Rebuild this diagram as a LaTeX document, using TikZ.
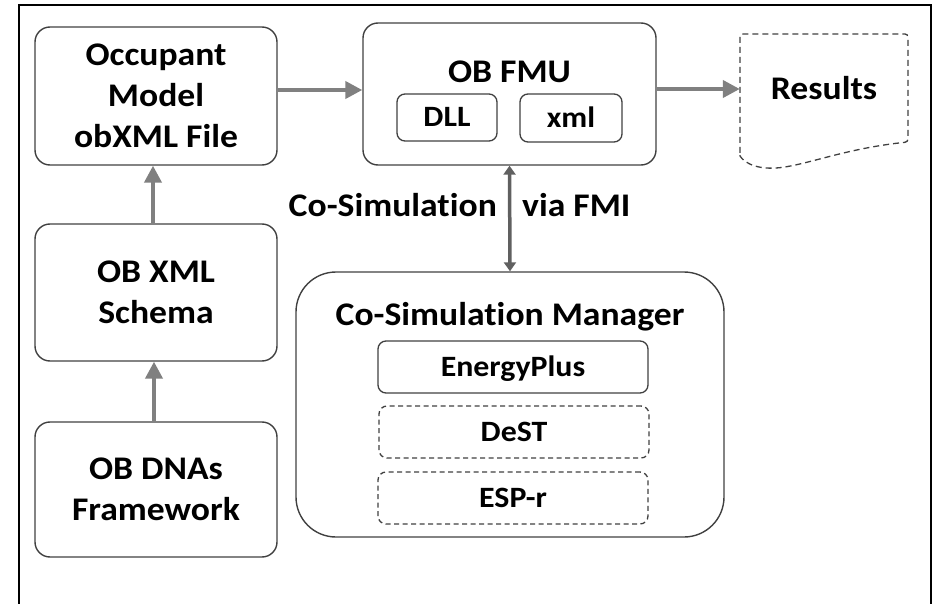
\documentclass[tikz,border=0pt]{standalone}
\usepackage{fontspec}
\setmainfont{Carlito}[FakeStretch=1.08, Ligatures=CommonOff]
\usetikzlibrary{arrows.meta,positioning}
\definecolor{obline}{RGB}{64,64,64}
\definecolor{obarrow}{RGB}{128,128,128}
\definecolor{oblink}{RGB}{96,96,96}

\begin{document}
\begin{tikzpicture}[x=1pt, y=-1pt, >=Stealth,
  every node/.style={font=\fontsize{33}{41}\selectfont\bfseries, align=center},
  block/.style={draw=obline, line width=1.4pt, rounded corners=15pt, inner sep=0pt},
  subblock/.style={draw=obline, line width=1.3pt, rounded corners=8pt,
    font=\fontsize{29.5}{34}\selectfont\bfseries, text height=19pt, text depth=0pt,
    minimum width=270pt, minimum height=52pt},
  dashbox/.style={subblock, dash pattern=on 5pt off 3.5pt},
  flow/.style={draw=obarrow, line width=4pt, -{Triangle[length=17pt,width=17pt]}},
  link/.style={draw=oblink, line width=3.5pt,
    {Triangle[length=9pt,width=12pt]}-{Triangle[length=9pt,width=12pt]}}]
  \useasboundingbox (0,0) rectangle (940,604);
  % Frame
  \draw[line width=2pt] (19,604) -- (19,5) -- (931,5) -- (931,604);
  % Left column
  \node[block, minimum width=242pt, minimum height=138pt] (occ) at (156,96) {Occupant\\Model\\obXML File};
  \node[block, minimum width=242pt, minimum height=137pt] (obxml) at (156,292.5) {OB XML\\Schema};
  \node[block, minimum width=242pt, minimum height=135pt] (dna) at (156,489.5) {OB DNAs\\Framework};
  % OB FMU
  \node[block, minimum width=293pt, minimum height=142pt] (fmu) at (509.5,94) {};
  \node[anchor=base] (fmutitle) at (509.5,83) {OB FMU};
  \node[subblock, minimum width=100pt, minimum height=47pt] (dll) at (447,117.5) {DLL};
  \node[subblock, minimum width=102pt, minimum height=48pt] (xml) at (571,118) {xml};
  % Results
  \node[minimum width=168pt, minimum height=109pt, inner sep=0pt, text height=21.3pt, text depth=0pt] (results) at (824,88.5) {Results};
  \draw[obline, line width=1.3pt, dash pattern=on 6pt off 4pt, rounded corners=3pt]
    (740,153) -- (740,34) -- (908,34) -- (908,142)
    [sharp corners] .. controls (850,148) and (815,162) .. (785,167)
    .. controls (760,171) and (745,164) .. (740,156) -- cycle;
  % Co-simulation manager
  \node[block, rounded corners=40pt, minimum width=428pt, minimum height=265pt] (csm) at (510,404.5) {};
  \node[anchor=base] (csmtitle) at (510,325) {Co-Simulation Manager};
  \node[subblock] (eplus) at (513,367) {EnergyPlus};
  \node[dashbox] (dest) at (514,432) {DeST};
  \node[dashbox] (espr) at (513,498) {ESP-r};
  % Connectors
  \draw[flow] ([yshift=6pt]occ.east) -- ([yshift=4pt]fmu.west);
  \draw[flow] ([yshift=5pt]fmu.east) -- ([yshift=-0.5pt]results.west);
  \draw[flow] ([xshift=-3pt]obxml.north) -- ([xshift=-3pt]occ.south);
  \draw[flow] ([xshift=-2pt]dna.north) -- ([xshift=-2pt]obxml.south);
  \draw[link] (fmu.south) -- (csm.north);
  \node[anchor=base east, inner sep=0pt] (cosimlbl) at (497,217) {Co-Simulation};
  \node[anchor=base west, inner sep=0pt] (fmilbl) at (522,217) {via FMI};
\end{tikzpicture}
\end{document}
